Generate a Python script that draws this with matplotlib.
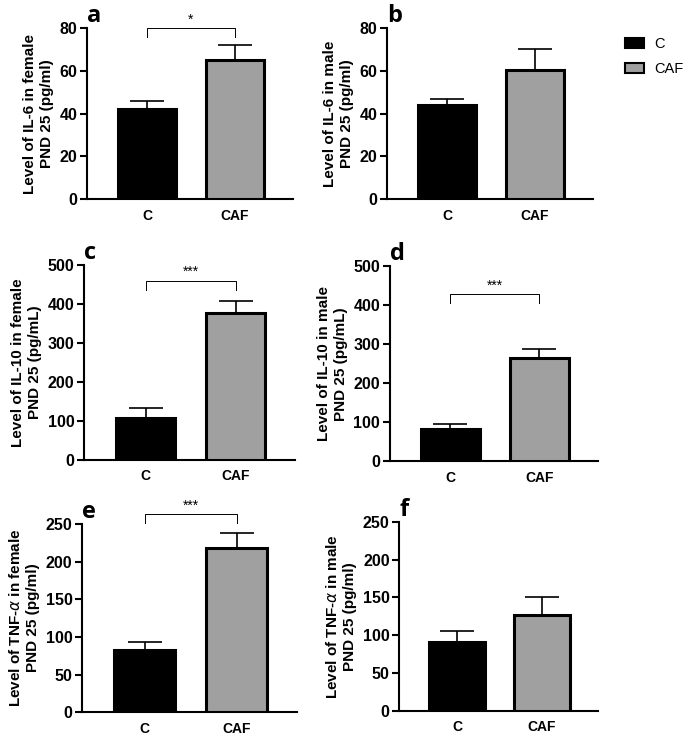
import matplotlib.pyplot as plt
import matplotlib.patches as mpatches

# ── data ─────────────────────────────────────────────────────────────────────
groups = ['C', 'CAF']
panel_letters = ['a', 'b', 'c', 'd', 'e', 'f']

means_a = [42, 65]
errs_a = [4, 7]
means_b = [44, 60.5]
errs_b = [3, 9.5]
means_c = [107, 376]
errs_c = [26, 32]
means_d = [82, 265]
errs_d = [13, 24]
means_e = [82, 218]
errs_e = [11, 20]
means_f = [91, 127]
errs_f = [14, 23]

ylabels = [
    'Level of IL-6 in female\nPND 25 (pg/ml)',
    'Level of IL-6 in male\nPND 25 (pg/ml)',
    'Level of IL-10 in female\nPND 25 (pg/mL)',
    'Level of IL-10 in male\nPND 25 (pg/mL)',
    'Level of TNF-$\\alpha$ in female\nPND 25 (pg/ml)',
    'Level of TNF-$\\alpha$ in male\nPND 25 (pg/ml)',
]
ymaxes = [80, 80, 500, 500, 250, 250]
ysteps = [20, 20, 100, 100, 50, 50]

# significance: (bracket height, leg bottom, label) or None
sig = [(80, 76, '*'), None, (459, 436, '***'), (428, 405, '***'),
       (263, 251, '***'), None]

means = [means_a, means_b, means_c, means_d, means_e, means_f]
errs = [errs_a, errs_b, errs_c, errs_d, errs_e, errs_f]

# axes boxes [left, bottom, width, height] in figure fraction
boxes = [
    [0.127, 0.730, 0.301, 0.232],
    [0.565, 0.730, 0.301, 0.232],
    [0.123, 0.377, 0.308, 0.264],
    [0.569, 0.375, 0.304, 0.264],
    [0.120, 0.035, 0.314, 0.255],
    [0.583, 0.037, 0.290, 0.256],
]

colors = ['black', '#a0a0a0']

plt.rcParams['font.family'] = ['Liberation Sans', 'DejaVu Sans']

fig = plt.figure(figsize=(6.85, 7.38), dpi=100)

for i in range(6):
    ax = fig.add_axes(boxes[i])
    x = [0, 1]
    ax.bar(x, means[i], width=0.66, color=colors, edgecolor='black',
           linewidth=2.2, zorder=3)
    ax.errorbar(x, means[i], yerr=[[0, 0], errs[i]], fmt='none',
                ecolor='black', elinewidth=1.2, capsize=12, capthick=1.2,
                zorder=2)
    ax.set_xlim(-0.68, 1.66)
    ax.set_ylim(0, ymaxes[i])
    ax.set_yticks(range(0, ymaxes[i] + 1, ysteps[i]))
    ax.set_xticks(x)
    ax.set_xticklabels(groups, fontweight='bold', fontsize=10)
    for lab in ax.get_yticklabels():
        lab.set_fontweight('bold')
        lab.set_fontsize(11.5)
    ax.tick_params(axis='x', length=0, pad=7)
    ax.tick_params(axis='y', length=5, width=1.5, pad=2)
    for s in ['top', 'right']:
        ax.spines[s].set_visible(False)
    for s in ['left', 'bottom']:
        ax.spines[s].set_linewidth(1.5)
    ax.set_ylabel(ylabels[i], fontweight='bold', fontsize=11, labelpad=4,
                  linespacing=1.25)

    if sig[i] is not None:
        top, leg, label = sig[i]
        ax.plot([0, 0, 1, 1], [leg, top, top, leg], color='black', lw=0.7,
                clip_on=False)
        ax.text(0.5, top + ymaxes[i] * 0.01, label, ha='center', va='bottom',
                fontsize=10, clip_on=False)

    ax.text(0.0, 1.0, panel_letters[i], transform=ax.transAxes,
            fontsize=17, fontweight='bold', ha='left', va='bottom',
            family=['Open Sans', 'DejaVu Sans'])

# legend
handles = [mpatches.Patch(facecolor=c, edgecolor='black', linewidth=1.5,
                          label=g) for c, g in zip(colors, groups)]
fig.legend(handles=handles, loc='upper left', bbox_to_anchor=(0.893, 0.968),
           frameon=False, fontsize=10.5, handlelength=1.3, handleheight=0.7,
           handletextpad=0.7, labelspacing=0.8)

plt.savefig('out.png', dpi=100)
